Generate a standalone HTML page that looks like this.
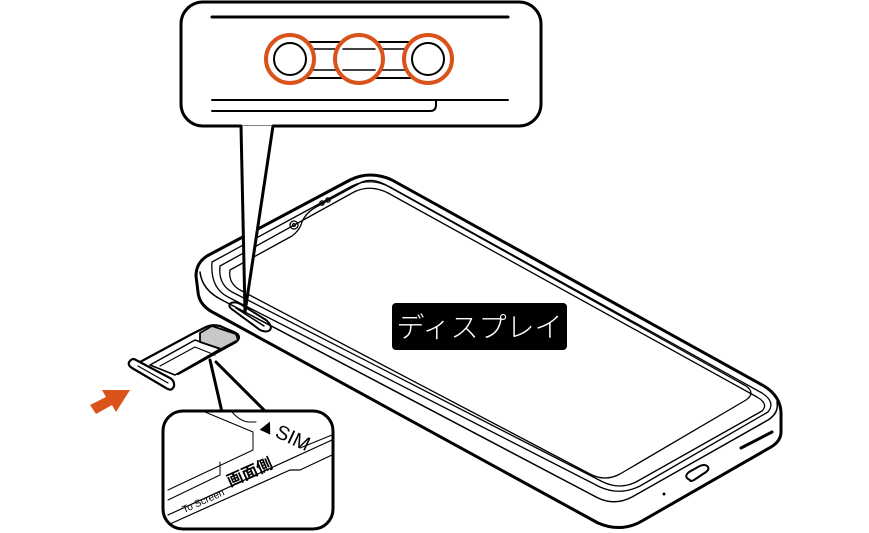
<!DOCTYPE html>
<html><head><meta charset="utf-8"><style>
html,body{margin:0;padding:0;background:#fff;}
svg{display:block;}
</style></head><body>
<svg width="869" height="533" viewBox="0 0 869 533" xmlns="http://www.w3.org/2000/svg">
<g fill="none" stroke="#000" stroke-linejoin="round" stroke-linecap="round">
<!-- phone outer silhouette -->
<path d="M207,256 L350,180 Q370,170 392,180 L764,386 Q782,397 781,416 L781,432 Q781,441 771,447 L642,521 Q621,533 598,523 L216,314 Q199,306 198,292 L196,276 Q196,263 207,256 Z" stroke-width="3"/>
<!-- top face edge -->
<path d="M200,272 Q202,290 222,300 L598,498 Q615,506 632,497 L768,420 Q779,413 777,402" stroke-width="1.5"/>
<!-- bezel double lines -->
<path d="M212,262 L352,186 Q370,177 390,187 L762,393 Q776,402 768,412 L640,486 Q620,496 600,487 L228,297 Q210,288 212,262 Z" stroke-width="1.3"/>
<path d="M220,266 L354,192 Q370,184 388,193 L757,397 Q769,404 762,411 L636,482 Q620,490 603,482 L232,292 Q218,284 220,266 Z" stroke-width="1.3"/>
<!-- screen -->
<path d="M230,270 L292,236 Q300,230 302,222 Q306,212 318,206 L362,182 M362,182 Q372,178 384,184 L746,386 Q756,393 746,400 L620,474 Q605,482 590,474 L240,290 Q228,283 230,270" stroke-width="1.3"/>
<circle cx="294" cy="225" r="4" stroke-width="1.3"/><circle cx="294" cy="225" r="1.5" stroke-width="1"/>
<circle cx="322" cy="203" r="2.2" stroke-width="1.2"/><circle cx="328" cy="200" r="2.2" stroke-width="1.2"/>
<!-- SIM slot -->
<path d="M233,310 Q227,306 231,303 Q236,301 242,305 L266,320 Q273,326 270,330 Q266,333 260,330 Z" stroke-width="2"/>
<path d="M236,308 L264,326" stroke-width="1.5"/>
<!-- bottom ports -->
<path d="M690,480 Q683,477 689,472 L698,467 Q705,463 708,467 Q710,470 703,474 L694,480 Q690,482 690,480 Z" stroke-width="2"/>
<path d="M741,448 L772,432" stroke-width="3"/>
<circle cx="664" cy="494" r="1.5" fill="#000" stroke="none"/>
<!-- top callout -->
<rect x="181" y="2" width="360" height="124" rx="22" stroke-width="3" fill="#fff"/>
<path d="M212,17 L508,17" stroke-width="3"/>
<path d="M212,100 L508,100 M212,111 L430,111 Q436,111 436,105 L436,100" stroke-width="2"/>
<path d="M290,42 L428,42 Q444,42 444,59 Q444,78 428,78 L290,78 Q272,78 272,59 Q272,42 290,42 Z" stroke-width="2"/>
<path d="M312,49 L406,49 M312,70 L406,70" stroke-width="1.5"/>
<g stroke="#d9531b" stroke-width="4"><circle cx="290" cy="59" r="24" fill="#fff"/><circle cx="359" cy="59" r="24" fill="#fff"/><circle cx="428" cy="59" r="24" fill="#fff"/></g>
<circle cx="290" cy="59" r="16" stroke-width="2"/><circle cx="428" cy="59" r="16" stroke-width="2"/>
<path d="M343,49 L375,49 M343,70 L375,70" stroke-width="1.5"/>
<path d="M241,126 L245,312 L273,126" stroke-width="3" fill="#fff"/>
<path d="M243,124 L271,124" stroke="#fff" stroke-width="3"/>
<!-- tray -->
<path d="M140,362 L192,334 L206,327 Q212,324 220,326 L236,333 Q242,337 236,342 L178,374" stroke-width="2.2"/>
<path d="M200,333 L212,326 L236,334 L238,340 L221,349 L200,342 Z" fill="#c8c8c8" stroke-width="1.8"/>
<path d="M150,365 L195,340 L220,349 L175,375 Z" stroke-width="1.5"/>
<path d="M160,366 L195,347 L215,355" stroke-width="1.2"/>
<path d="M131,360 Q126,364 132,368 L166,388 Q172,392 174,386 Q175,380 168,377 L136,360 Q133,358 131,360 Z" stroke-width="2.2"/>
<path d="M138,366 L168,383" stroke-width="1.2"/>
<!-- bottom callout -->
<path d="M210,360 L222,412 M216,362 L266,412" stroke-width="3"/>
<rect x="163" y="411" width="170" height="118" rx="20" stroke-width="3" fill="#fff"/>
<path d="M205,412 L253,432 L253,450 L168,490" stroke-width="1"/>
<path d="M232,412 Q240,421 248,422 L256,422" stroke-width="1"/>
<path d="M220,462 L220,475 L168,500" stroke-width="1"/>
<path d="M168,515 L332,440" stroke-width="1.2"/>
<path d="M170,524 L290,470 L300,470 L332,455" stroke-width="1.2"/>
<path d="M300,448 L332,435" stroke-width="1"/>
</g>
<path d="M90,405 L106,397 L102,390 L130,390 L116,412 L112,405 L96,414 Z" fill="#d9531b"/>
<g font-family="'Liberation Sans','Noto Sans CJK JP',sans-serif">
<text x="256" y="428" font-size="20" transform="rotate(25 256 428)">▲SIM</text>
<text x="230" y="487" font-size="16" font-weight="bold" transform="rotate(-24 230 487)">画面側</text>
<text x="184" y="513" font-size="10" transform="rotate(-24 184 513)">To Screen</text>
<rect x="392" y="303" width="175" height="47" rx="4" fill="#000"/>
<text x="479.5" y="337" font-size="28" fill="#fff" text-anchor="middle" font-family="'Noto Sans CJK JP',sans-serif" font-weight="300">ディスプレイ</text>
</g>
</svg>
</body></html>
